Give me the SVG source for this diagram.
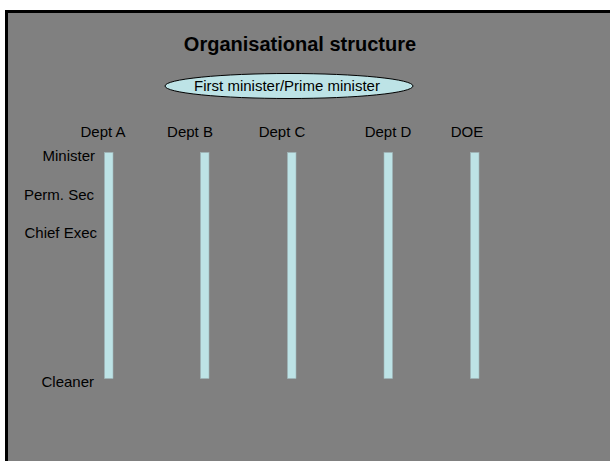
<svg xmlns="http://www.w3.org/2000/svg" width="610" height="461" viewBox="0 0 610 461">
<style>
text{font-family:"Liberation Sans",Arial,sans-serif;fill:#000}
.row{font-size:15px;text-anchor:end}
.dept{font-size:15px;text-anchor:middle}
.bar{fill:#bde3e6;stroke:#9fb5b7;stroke-width:0.6}
</style>
<rect x="0" y="0" width="610" height="461" fill="#ffffff"/>
<rect x="6.5" y="11.5" width="620" height="470" fill="#808080" stroke="#000" stroke-width="3"/>
<text x="300" y="51" font-size="20" font-weight="bold" text-anchor="middle">Organisational structure</text>
<g id="pm">
<ellipse cx="289" cy="86" rx="124" ry="12.5" fill="#bde3e6" stroke="#000" stroke-width="1"/>
<text class="dept" x="287" y="91">First minister/Prime minister</text>
</g>
<g id="deptA"><text class="dept" x="103" y="137">Dept A</text><rect class="bar" x="104.5" y="152.5" width="8.5" height="226"/></g>
<g id="deptB"><text class="dept" x="190" y="137">Dept B</text><rect class="bar" x="200.5" y="152.5" width="8.5" height="226"/></g>
<g id="deptC"><text class="dept" x="282" y="137">Dept C</text><rect class="bar" x="287.5" y="152.5" width="8.5" height="226"/></g>
<g id="deptD"><text class="dept" x="388" y="137">Dept D</text><rect class="bar" x="384" y="152.5" width="8.5" height="226"/></g>
<g id="doe"><text class="dept" x="467" y="137">DOE</text><rect class="bar" x="470.5" y="152.5" width="8.5" height="226"/></g>
<g id="levels">
<text class="row" x="95" y="161">Minister</text>
<text class="row" x="94" y="200">Perm. Sec</text>
<text class="row" x="97" y="238">Chief Exec</text>
<text class="row" x="94" y="387">Cleaner</text>
</g>
<g id="connectors"></g>
</svg>
